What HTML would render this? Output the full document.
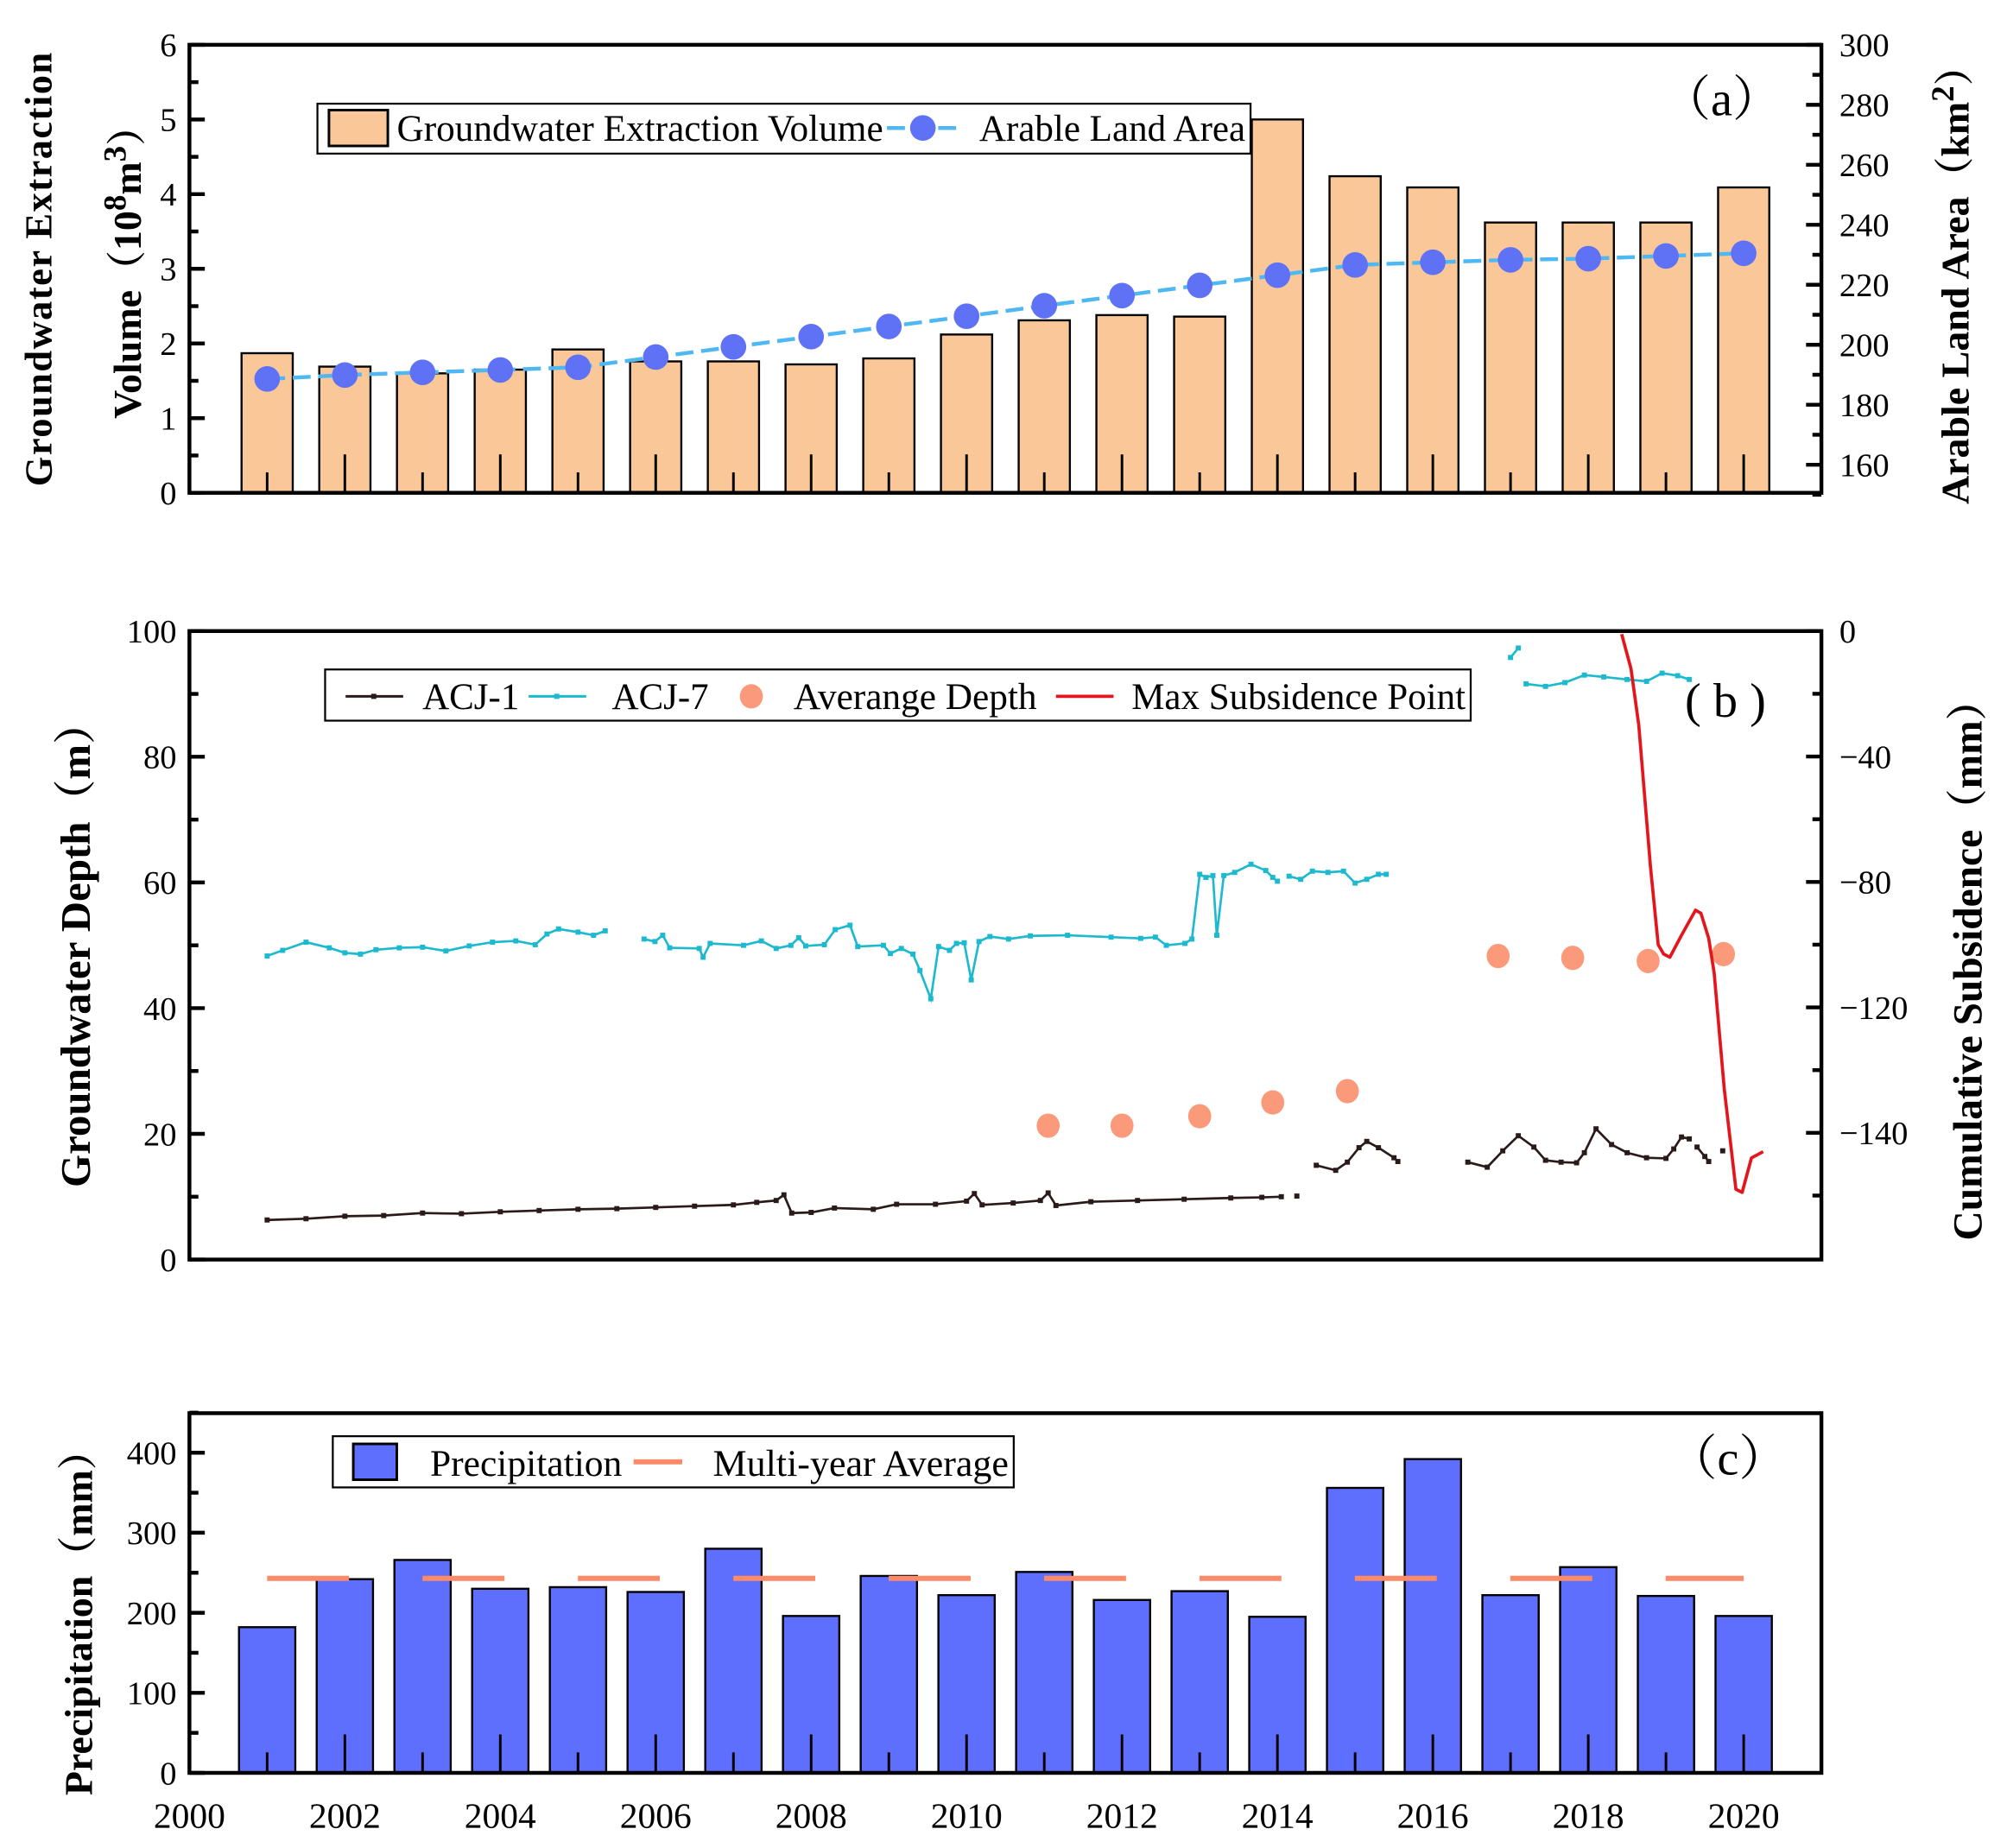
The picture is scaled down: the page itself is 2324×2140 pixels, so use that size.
<!DOCTYPE html>
<html><head><meta charset="utf-8"><style>
html,body{margin:0;padding:0;background:#fff;}
svg{display:block;}
text{font-family:"Liberation Serif","Noto Serif CJK SC",serif;}
</style></head><body>
<svg id="chart" xmlns="http://www.w3.org/2000/svg" width="2324" height="2140" viewBox="0 0 1568 1443.7" preserveAspectRatio="none">
<g id="pa"></g>
<g id="pb"></g>
<g id="pc"></g>
</svg>
<script>
// ---------- data ----------
const years = [2001,2002,2003,2004,2005,2006,2007,2008,2009,2010,2011,2012,2013,2014,2015,2016,2017,2018,2019,2020];
const extraction = [1.87,1.69,1.6,1.65,1.92,1.76,1.76,1.72,1.8,2.12,2.31,2.38,2.36,5.0,4.24,4.09,3.62,3.62,3.62,4.09];
const arableArea = [188.6,189.9,190.8,191.6,192.5,195.9,199.3,202.7,206.1,209.5,213,216.4,219.8,223.2,226.6,227.5,228.3,228.7,229.6,230.5];
const precipitation = [182,242,266,230,232,226,280,196,246,222,251,216,227,195,356,392,222,257,221,196];
const multiYearAvg = 243;
const leftTicksA = [0,1,2,3,4,5,6];
const rightTicksA = [160,180,200,220,240,260,280,300];
const leftTicksB = [0,20,40,60,80,100];
const rightTickVals = [0,-40,-80,-120,-160];
const rightTickLabels = ["0","\u221240","\u221280","\u2212120","\u2212140"];
const leftTicksC = [0,100,200,300,400];
const xTicks = [2000,2002,2004,2006,2008,2010,2012,2014,2016,2018,2020];
// ACJ-7 segments [year, depth]
const acj7Seg1 = [[2001.0,48.3],[2001.2,49.2],[2001.5,50.5],[2001.8,49.6],[2002.0,48.8],[2002.2,48.6],[2002.4,49.3],[2002.7,49.6],[2003.0,49.7],[2003.3,49.1],[2003.6,49.9],[2003.9,50.5],[2004.2,50.7],[2004.45,50.1],[2004.6,51.8],[2004.75,52.6],[2005.0,52.1],[2005.2,51.6],[2005.35,52.3]];
const acj7Seg2 = [[2005.85,51],[2005.99,50.6],[2006.09,51.6],[2006.18,49.6],[2006.56,49.5],[2006.61,48.1],[2006.7,50.3],[2007.13,50],[2007.36,50.7],[2007.55,49.5],[2007.74,50],[2007.84,51.2],[2007.93,49.9],[2008.17,50.1],[2008.31,52.5],[2008.5,53.2],[2008.6,49.8],[2008.93,50.0],[2009.02,48.7],[2009.16,49.5],[2009.31,48.6],[2009.4,46.0],[2009.54,41.5],[2009.64,49.8],[2009.78,49.2],[2009.87,50.3],[2009.97,50.4],[2010.06,44.5],[2010.16,50.6],[2010.3,51.4],[2010.54,51.0],[2010.82,51.5],[2011.3,51.6],[2011.86,51.3],[2012.24,51.1],[2012.43,51.3],[2012.57,50.0],[2012.81,50.3],[2012.9,51.0],[2013.0,61.3],[2013.08,60.8],[2013.17,61.1],[2013.22,51.6],[2013.31,61.1],[2013.45,61.6],[2013.66,62.9],[2013.85,61.9],[2013.94,60.8],[2014.0,60.2]];
const acj7Seg3 = [[2014.15,61.0],[2014.3,60.5],[2014.45,61.8],[2014.65,61.6],[2014.85,61.8],[2015.0,59.9],[2015.15,60.5],[2015.3,61.3],[2015.4,61.3]];
const acj7Seg4 = [[2017.0,95.8],[2017.1,97.3]];
const acj7Seg5 = [[2017.2,91.6],[2017.45,91.2],[2017.7,91.8],[2017.95,93.0],[2018.2,92.7],[2018.5,92.3],[2018.75,92.0],[2018.95,93.3],[2019.15,92.9],[2019.3,92.3]];
// ACJ-1 segments
const acj1Seg1 = [[2001.0,6.3],[2001.5,6.5],[2002.0,6.9],[2002.5,7.0],[2003.0,7.4],[2003.5,7.3],[2004.0,7.6],[2004.5,7.8],[2005.0,8.0],[2005.5,8.1],[2006.0,8.3],[2006.5,8.5],[2007.0,8.7],[2007.3,9.1],[2007.55,9.4],[2007.65,10.3],[2007.75,7.4],[2008.0,7.5],[2008.3,8.2],[2008.8,8.0],[2009.1,8.8],[2009.6,8.8],[2010.0,9.3],[2010.1,10.5],[2010.2,8.7],[2010.6,9.0],[2010.95,9.4],[2011.05,10.6],[2011.15,8.6],[2011.6,9.2],[2012.2,9.4],[2012.8,9.6],[2013.4,9.8],[2013.8,9.9],[2014.05,10.0]];
const acj1Seg2 = [[2014.25,10.1]];
const acj1Seg3 = [[2014.5,15],[2014.75,14.2],[2014.9,15.5],[2015.05,17.8],[2015.15,18.8],[2015.3,17.8],[2015.5,16.2],[2015.55,15.6]];
const acj1Seg4 = [[2016.45,15.5],[2016.7,14.7],[2016.9,17.3],[2017.1,19.7],[2017.3,17.9],[2017.45,15.8],[2017.65,15.5],[2017.85,15.4],[2017.95,17.0],[2018.1,20.8],[2018.3,18.3],[2018.5,17.0],[2018.75,16.2],[2019.0,16.1],[2019.1,17.6],[2019.2,19.5],[2019.3,19.2]];
const acj1Seg5 = [[2019.4,17.9],[2019.5,16.4],[2019.55,15.6]];
const acj1Seg6 = [[2019.73,17.3]];
const avgDepthYears = [2011.05,2012.0,2013.0,2013.94,2014.9,2016.84,2017.8,2018.77,2019.74];
const avgDepthVals = [21.3,21.3,22.8,25.0,26.8,48.3,48.0,47.5,48.6];
const subsYears = [2018.43,2018.55,2018.65,2018.8,2018.9,2018.97,2019.05,2019.2,2019.38,2019.45,2019.55,2019.62,2019.75,2019.9,2019.98,2020.1,2020.25];
const subsVals = [-1,-12,-30,-75,-100,-103,-104,-97,-89,-90,-98,-109,-146,-178,-179,-168,-166];

// ---------- helpers ----------
const NS = "http://www.w3.org/2000/svg";
function mk(parent, tag, attrs, txt){const e=document.createElementNS(NS,tag);for(const k in attrs)e.setAttribute(k,attrs[k]);if(txt!==undefined)e.textContent=txt;parent.appendChild(e);return e;}
const X0=148, X1=1423;
const xs = v => X0 + (v-2000)/(2021-2000)*(X1-X0);
function lin(d0,d1,r0,r1){return v=>r0+(v-d0)/(d1-d0)*(r1-r0);}
const LF=29;

function frame(g,top,bot){
  const r=mk(g,'rect',{x:X0,y:top,width:X1-X0,height:bot-top,fill:'none',stroke:'#000','stroke-width':3});
  
  
}
function yAxis(g,ticks,labels,sc,side,minorStep,rangeLo,rangeHi){
  const x = side==='left'?X0:X1, dir = side==='left'?1:-1;
  const ag=mk(g,'g',{});
  
  
  ticks.forEach((t,i)=>{
    const y=sc(t);
    mk(ag,'line',{x1:x,x2:x+dir*12,y1:y,y2:y,stroke:'#000','stroke-width':3});
    const tx=mk(ag,'text',{x:side==='left'?x-10:x+14,y:y+9,'font-size':26,'text-anchor':side==='left'?'end':'start'},labels?labels[i]:String(t));
    
    
  });
  if(minorStep){
    for(let v=rangeLo; v<=rangeHi+1e-9; v+=minorStep){
      if(ticks.some(t=>Math.abs(t-v)<1e-9))continue;
      const y=sc(v);
      mk(ag,'line',{x1:x,x2:x+dir*7,y1:y,y2:y,stroke:'#000','stroke-width':3});
    }
  }
}
function xTickMarks(g,bot){
  years.forEach(y=>{
    const len = y%2===0?30:16;
    mk(g,'line',{x1:xs(y),x2:xs(y),y1:bot,y2:bot-len,stroke:'#000','stroke-width':2});
  });
}

// ---------- Panel A ----------
(function(){
  const g=document.getElementById('pa');
  const top=35,bot=385;
  const yl=lin(0,6,bot,top), yr=lin(150,300,386.5,35);
  years.forEach((yr0,i)=>{
    const b=mk(g,'rect',{x:xs(yr0)-20,y:yl(extraction[i]),width:40,height:bot-yl(extraction[i]),fill:'#fac898',stroke:'#000','stroke-width':1.6});
    
    
  });
  xTickMarks(g,bot);
  const pts=years.map((y,i)=>xs(y)+','+yr(arableArea[i])).join(' ');
  const pl=mk(g,'polyline',{points:pts,fill:'none',stroke:'#4fb8f2','stroke-width':3,'stroke-dasharray':'14 6'});
  
  
  years.forEach((y,i)=>{
    const c=mk(g,'ellipse',{cx:xs(y),cy:yr(arableArea[i]),rx:10,ry:10,fill:'#5f71f5'});
    
    
  });
  frame(g,top,bot);
  yAxis(g,leftTicksA,null,yl,'left',0.5,0,6);
  yAxis(g,rightTicksA,null,yr,'right',10,150,300);
  const lg=mk(g,'g',{});
  
  
  mk(lg,'rect',{x:248,y:81,width:729,height:39,fill:'#fff',stroke:'#000','stroke-width':1.5});
  mk(lg,'rect',{x:257,y:86,width:46,height:28,fill:'#fac898',stroke:'#000','stroke-width':2});
  mk(lg,'text',{x:310,y:110,'font-size':LF,textLength:380,lengthAdjust:'spacingAndGlyphs'},'Groundwater Extraction Volume');
  mk(lg,'line',{x1:693,x2:748,y1:100,y2:100,stroke:'#4fb8f2','stroke-width':3,'stroke-dasharray':'14 6'});
  mk(lg,'ellipse',{cx:721,cy:100,rx:10,ry:10,fill:'#5f71f5'});
  mk(lg,'text',{x:765,y:110,'font-size':LF,textLength:208,lengthAdjust:'spacingAndGlyphs'},'Arable Land Area');
  const pl2=mk(g,'text',{x:1345,y:90,'font-size':38,'text-anchor':'middle'},'（a）');
  
  
  const t1=mk(g,'text',{transform:'translate(40,210) rotate(-90)','font-size':30,'font-weight':'bold','text-anchor':'middle','letter-spacing':'1'},'Groundwater Extraction');
  
  
  const t2=mk(g,'text',{transform:'translate(110,205) rotate(-90)','font-size':31,'font-weight':'bold','text-anchor':'middle'});
  
  
  t2.innerHTML='Volume（10<tspan dy="-12" font-size="25">8</tspan><tspan dy="12">m</tspan><tspan dy="-12" font-size="25">3</tspan><tspan dy="12">）</tspan>';
  const t3=mk(g,'text',{transform:'translate(1538,215) rotate(-90)','font-size':31,'font-weight':'bold','text-anchor':'middle'});
  
  
  t3.innerHTML='Arable Land Area（km<tspan dy="-12" font-size="25">2</tspan><tspan dy="12">）</tspan>';
})();

// ---------- Panel B ----------
(function(){
  const g=document.getElementById('pb');
  const top=493,bot=984;
  const yl=lin(0,100,bot,top), yr=lin(0,-200,top,top+490);
  function series(seg,color,name,w){
    const p=mk(g,'polyline',{points:seg.map(d=>xs(d[0])+','+yl(d[1])).join(' '),fill:'none',stroke:color,'stroke-width':w});
    
    
    seg.forEach(d=>{mk(g,'rect',{x:xs(d[0])-2,y:yl(d[1])-2,width:4,height:4,fill:color});});
  }
  [acj7Seg1,acj7Seg2,acj7Seg3,acj7Seg4,acj7Seg5].forEach((s,i)=>series(s,'#1db9cf','acj7-line-segment-'+i,1.8));
  [acj1Seg1,acj1Seg2,acj1Seg3,acj1Seg4,acj1Seg5,acj1Seg6].forEach((s,i)=>series(s,'#2b1a1a','acj1-line-segment-'+i,1.8));
  avgDepthYears.forEach((y,i)=>{
    const c=mk(g,'ellipse',{cx:xs(y),cy:yl(avgDepthVals[i]),rx:9,ry:9.5,fill:'#fb9a7a'});
    
    
  });
  const sp=mk(g,'polyline',{points:subsYears.map((y,i)=>xs(y)+','+yr(subsVals[i])).join(' '),fill:'none',stroke:'#e3161c','stroke-width':2.5,'stroke-linejoin':'round'});
  
  
  frame(g,top,bot);
  yAxis(g,leftTicksB,null,yl,'left',10,0,100);
  yAxis(g,rightTickVals,rightTickLabels,yr,'right',20,-180,0);
  const lg=mk(g,'g',{});
  
  
  mk(lg,'rect',{x:254,y:523,width:895,height:40,fill:'#fff',stroke:'#000','stroke-width':1.5});
  mk(lg,'line',{x1:270,x2:315,y1:544,y2:544,stroke:'#2b1a1a','stroke-width':2});
  mk(lg,'rect',{x:290,y:542,width:4,height:4,fill:'#2b1a1a'});
  mk(lg,'text',{x:330,y:554,'font-size':LF},'ACJ-1');
  mk(lg,'line',{x1:413,x2:458,y1:544,y2:544,stroke:'#1db9cf','stroke-width':2});
  mk(lg,'rect',{x:433,y:542,width:4,height:4,fill:'#1db9cf'});
  mk(lg,'text',{x:478,y:554,'font-size':LF},'ACJ-7');
  mk(lg,'ellipse',{cx:587,cy:544,rx:9,ry:9.5,fill:'#fb9a7a'});
  mk(lg,'text',{x:620,y:554,'font-size':LF,textLength:190,lengthAdjust:'spacingAndGlyphs'},'Averange Depth');
  mk(lg,'line',{x1:825,x2:870,y1:544,y2:544,stroke:'#e3161c','stroke-width':2.5});
  mk(lg,'text',{x:884,y:554,'font-size':LF,textLength:261,lengthAdjust:'spacingAndGlyphs'},'Max Subsidence Point');
  const pl2=mk(g,'text',{x:1348,y:560,'font-size':38,'text-anchor':'middle'},'( b )');
  
  
  const t1=mk(g,'text',{transform:'translate(70,738) rotate(-90)','font-size':33,'font-weight':'bold','text-anchor':'middle'},'Groundwater Depth（m）');
  
  
  const t2=mk(g,'text',{transform:'translate(1548,750) rotate(-90)','font-size':32,'font-weight':'bold','text-anchor':'middle'},'Cumulative Subsidence（mm）');
  
  
})();

// ---------- Panel C ----------
(function(){
  const g=document.getElementById('pc');
  const top=1104,bot=1385;
  const yl=lin(0,450,bot,top-0.4);
  years.forEach((y,i)=>{
    const b=mk(g,'rect',{x:xs(y)-22,y:yl(precipitation[i]),width:44,height:bot-yl(precipitation[i]),fill:'#5f6ffd',stroke:'#000','stroke-width':1.6});
    
    
  });
  xTickMarks(g,bot);
  const av=mk(g,'line',{x1:xs(2001),x2:xs(2020),y1:yl(multiYearAvg),y2:yl(multiYearAvg),stroke:'#fa8a68','stroke-width':4,'stroke-dasharray':'64 57.4'});
  
  
  frame(g,top,bot);
  yAxis(g,leftTicksC,null,yl,'left',50,0,450);
  const xa=mk(g,'g',{});
  
  
  xTicks.forEach(t=>{
    const tx=mk(xa,'text',{x:xs(t),y:1428,'font-size':28,'text-anchor':'middle'},String(t));
    
    
  });
  const lg=mk(g,'g',{});
  
  
  mk(lg,'rect',{x:260,y:1122,width:532,height:40,fill:'#fff',stroke:'#000','stroke-width':1.5});
  mk(lg,'rect',{x:276,y:1128,width:34,height:28,fill:'#5f6ffd',stroke:'#000','stroke-width':2});
  mk(lg,'text',{x:336,y:1153,'font-size':LF,textLength:150,lengthAdjust:'spacingAndGlyphs'},'Precipitation');
  mk(lg,'line',{x1:495,x2:533,y1:1142,y2:1142,stroke:'#fa8a68','stroke-width':4});
  mk(lg,'text',{x:557,y:1153,'font-size':LF,textLength:231,lengthAdjust:'spacingAndGlyphs'},'Multi-year Average');
  const pl2=mk(g,'text',{x:1350,y:1152,'font-size':38,'text-anchor':'middle'},'（c）');
  
  
  const t1=mk(g,'text',{transform:'translate(72,1260) rotate(-90)','font-size':31,'font-weight':'bold','text-anchor':'middle'},'Precipitation（mm）');
  
  
})();
</script>
</body></html>
